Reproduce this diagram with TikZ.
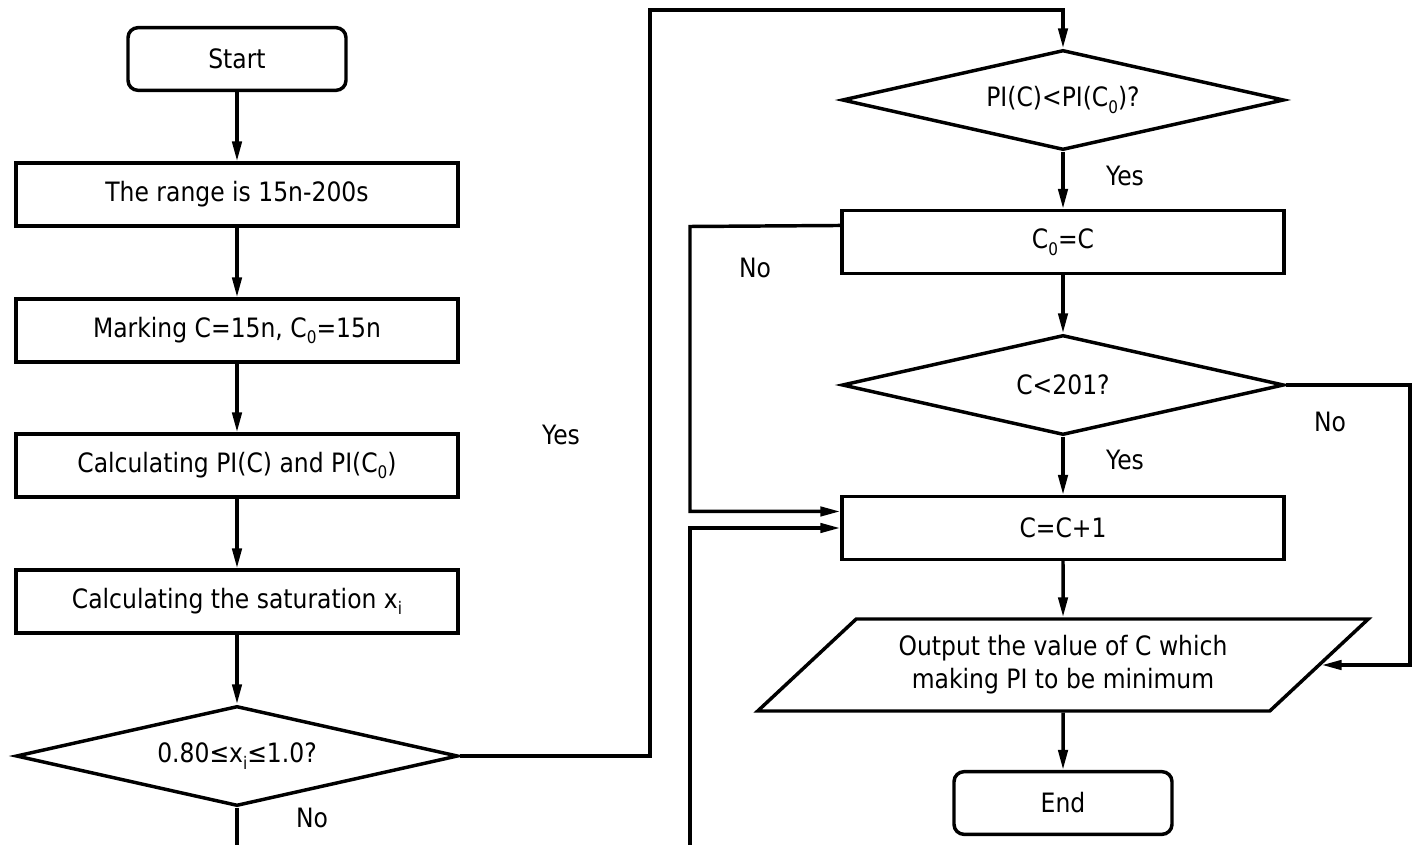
\documentclass[tikz,border=0pt]{standalone}
\usepackage{fontspec}
\setmainfont{DejaVu Sans}[FakeStretch=0.88]
\usetikzlibrary{shapes.geometric,arrows.meta,calc}
\newcommand\lowsub[1]{\raisebox{-0.45ex}{\fontsize{13}{13}\selectfont #1}}
\begin{document}
\begin{tikzpicture}[x=0.75pt,y=-0.75pt,
  txt/.style={font=\fontsize{20}{24.75}\selectfont},
  ln/.style={line width=2.6pt},
  arr/.style={line width=2.6pt,-{Triangle[length=15pt,width=7pt]}},
  box/.style={draw,line width=2.6pt,rectangle,minimum width=331.5pt,minimum height=47pt,inner sep=0pt,txt},
  term/.style={box,rounded corners=7.5pt,minimum width=163.5pt},
  dec/.style={draw,diamond,aspect=4.42,line width=2.6pt,minimum width=331.5pt,minimum height=75pt,inner sep=0pt,txt},
  io/.style={draw,trapezium,trapezium left angle=36.9,trapezium right angle=143.1,trapezium stretches=true,line width=2.6pt,minimum width=460.5pt,minimum height=69pt,inner sep=0pt,align=center,txt},
  lbl/.style={txt,inner sep=0pt}]
\useasboundingbox (0,0) rectangle (1413,845);
% left column
\node[term] (start) at (237,59) {Start};
\node[box] (b1) at (237,194.5) {The range is 15n-200s};
\node[box] (b2) at (237,330.5) {Marking C=15n, C\lowsub{0}=15n};
\node[box] (b3) at (237,465.5) {Calculating PI(C) and PI(C\lowsub{0})};
\node[box] (b4) at (237,601.5) {Calculating the saturation x\lowsub{i}};
\node[dec] (d1) at (237,756) {0.80≤x\lowsub{i}≤1.0?};
% right column
\node[dec] (d2) at (1063,100) {PI(C)<PI(C\lowsub{0})?};
\node[box] (c0) at (1063,242) {C\lowsub{0}=C};
\node[dec] (d3) at (1063,385) {C<201?};
\node[box] (inc) at (1063,528) {C=C+1};
\node[io] (out) at (1063,665) {Output the value of C which\\making PI to be minimum};
\node[term] (end) at (1063,803) {End};
% helper coordinates
\coordinate (bl) at (237,845);
\coordinate (br) at (690,845);
\coordinate (c0w) at ($(c0.north west)!0.25!(c0.south west)$);
\coordinate (incw) at ($(inc.north west)!0.25!(inc.south west)$);
% connectors
\draw[arr] (start) -- (b1);
\draw[arr] (b1) -- (b2);
\draw[arr] (b2) -- (b3);
\draw[arr] (b3) -- (b4);
\draw[arr] (b4) -- (d1);
\draw[ln] (d1.south) -- (bl);
\draw[arr] (d1.east) -- (650,756) -- (650,10) -| (d2.north);
\draw[arr] (d2.south) -- (c0.north);
\draw[arr] (c0w) -- (690,226.5) |- (incw);
\draw[arr] (br) |- (inc.west);
\draw[arr] (c0.south) -- (d3.north);
\draw[arr] (d3.south) -- (inc.north);
\draw[arr] (d3.east) -- (1410,385) |- (out.east);
\draw[arr] (inc.south) -- (out.north);
\draw[arr] (out.south) -- (end.north);
% labels
\node[lbl] (l1) at (312,818) {No};
\node[lbl] (l2) at (561,435) {Yes};
\node[lbl] (l3) at (1125,176) {Yes};
\node[lbl] (l4) at (755,268) {No};
\node[lbl] (l5) at (1125,460) {Yes};
\node[lbl] (l6) at (1330,422) {No};
\end{tikzpicture}
\end{document}
